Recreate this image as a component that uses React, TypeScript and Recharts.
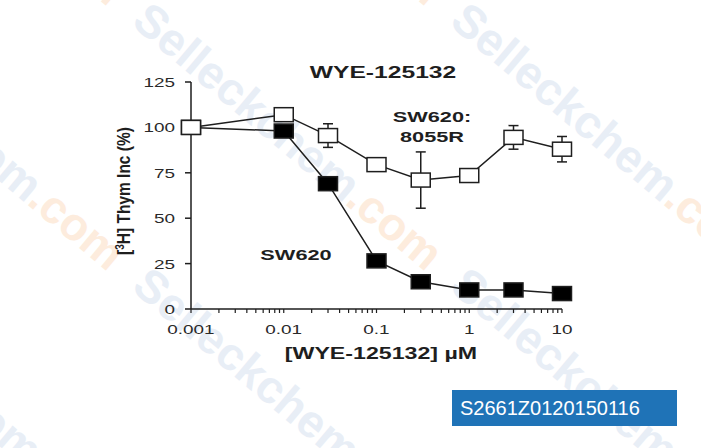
import React from 'react';
import {
  ComposedChart,
  Line,
  XAxis,
  YAxis,
  ErrorBar,
} from 'recharts';

const concentrations = [0.001, 0.01, 0.03, 0.1, 0.3, 1, 3, 10];
const sw620 = [100, 98, 69, 26.5, 15, 10.5, 10.5, 8.5];
const sw620_8055R = [100, 107, 95.5, 79.5, 71, 73.5, 94.5, 88];
const sw620_8055R_err = [0, 2, 6.5, 0, 15.5, 0, 6.5, 7];

const xMajorTicks = [0.001, 0.01, 0.1, 1, 10];
const yTicks = [0, 25, 50, 75, 100, 125];

// minor log ticks between decades
const xTicks = xMajorTicks.slice(0, -1)
  .flatMap((d) => [1, 2, 3, 4, 5, 6, 7, 8, 9].map((m) => +(m * d).toPrecision(3)))
  .concat([10]);

const data = concentrations.map((c, i) => ({
  conc: c,
  sw620: sw620[i],
  r8055: sw620_8055R[i],
  err: sw620_8055R_err[i],
}));

const FONT = '"Liberation Sans", Arial, sans-serif';
const INK = '#1e1e1e';

// background watermark grid
const wmX = [-180, 138, 456];
const wmY = [-250, 15, 280];

const XTick = (props: any) => {
  const { x, y, payload } = props;
  if (!xMajorTicks.includes(payload.value)) return null;
  return (
    <text
      transform={`translate(${x},${y + 19}) scale(1.4,1)`}
      textAnchor="middle"
      fontFamily={FONT}
      fontSize={13.5}
      fill="#2a2a2a"
    >
      {String(payload.value)}
    </text>
  );
};

const YTick = (props: any) => {
  const { x, y, payload } = props;
  return (
    <text
      transform={`translate(${x - 8},${y + 5}) scale(1.4,1)`}
      textAnchor="end"
      fontFamily={FONT}
      fontSize={13.5}
      fill="#2a2a2a"
    >
      {payload.value}
    </text>
  );
};

const squareDot = (fill: string) => (props: any) => {
  const { cx, cy, index } = props;
  if (cx == null || cy == null) return <g key={index} />;
  return (
    <rect
      key={index}
      x={cx - 9.5}
      y={cy - 7}
      width={19}
      height={14}
      fill={fill}
      stroke={INK}
      strokeWidth={1.5}
    />
  );
};

const BoldText = ({ x, y, size, children }: any) => (
  <text
    transform={`translate(${x},${y}) scale(1.45,1)`}
    textAnchor="middle"
    fontFamily={FONT}
    fontWeight="bold"
    fontSize={size}
    fill={INK}
  >
    {children}
  </text>
);

export default function App() {
  return (
    <div
      style={{
        position: 'absolute',
        left: 0,
        top: 0,
        width: 701,
        height: 448,
        background: '#fff',
        overflow: 'hidden',
      }}
    >
      <svg
        width={701}
        height={448}
        style={{ position: 'absolute', left: 0, top: 0 }}
      >
        {wmX.flatMap((wx) =>
          wmY.map((wy) => (
            <text
              key={`${wx}-${wy}`}
              transform={`translate(${wx},${wy}) rotate(40)`}
              fontFamily={FONT}
              fontWeight="bold"
              fontSize={46}
              dominantBaseline="middle"
              fill="#e8eef6"
            >
              Selleckchem<tspan fill="#fdecdd">.com</tspan>
            </text>
          ))
        )}
      </svg>
      <div style={{ position: 'absolute', left: 0, top: 0 }}>
        <ComposedChart
          width={701}
          height={448}
          data={data}
          margin={{ top: 82, right: 139, bottom: 109, left: 131 }}
        >
          <XAxis
            dataKey="conc"
            type="number"
            scale="log"
            domain={[0.001, 10]}
            ticks={xTicks}
            interval={0}
            height={30}
            tickSize={4}
            tick={<XTick />}
            axisLine={{ stroke: INK, strokeWidth: 1.5 }}
            tickLine={{ stroke: INK, strokeWidth: 1.2 }}
          />
          <YAxis
            type="number"
            domain={[0, 125]}
            ticks={yTicks}
            interval={0}
            width={60}
            tickSize={6}
            tick={<YTick />}
            axisLine={{ stroke: INK, strokeWidth: 1.5 }}
            tickLine={{ stroke: INK, strokeWidth: 1.5 }}
          />
          <Line
            dataKey="r8055"
            stroke="none"
            dot={false}
            activeDot={false}
            isAnimationActive={false}
          >
            <ErrorBar dataKey="err" width={5} stroke={INK} strokeWidth={1.5} direction="y" />
          </Line>
          <Line
            type="linear"
            dataKey="sw620"
            stroke={INK}
            strokeWidth={1.5}
            dot={squareDot('#000')}
            activeDot={false}
            isAnimationActive={false}
          />
          <Line
            type="linear"
            dataKey="r8055"
            stroke={INK}
            strokeWidth={1.5}
            dot={squareDot('#fff')}
            activeDot={false}
            isAnimationActive={false}
          />
        </ComposedChart>
      </div>
      <svg
        width={701}
        height={448}
        style={{ position: 'absolute', left: 0, top: 0, pointerEvents: 'none' }}
      >
        <BoldText x={383} y={78} size={17}>WYE-125132</BoldText>
        <BoldText x={432} y={122} size={15}>SW620:</BoldText>
        <BoldText x={432} y={142} size={15}>8055R</BoldText>
        <BoldText x={296} y={260} size={15}>SW620</BoldText>
        <BoldText x={381} y={359} size={16}>[WYE-125132] µM</BoldText>
        <text
          transform="translate(130,191) scale(1.2,1) rotate(-90)"
          textAnchor="middle"
          fontFamily={FONT}
          fontWeight="bold"
          fontSize={15.5}
          fill={INK}
        >
          [<tspan fontSize={10} dy={-5}>3</tspan>
          <tspan dy={5}>H] Thym Inc (%)</tspan>
        </text>
      </svg>
      <div
        style={{
          position: 'absolute',
          left: 452,
          top: 390,
          width: 225,
          height: 36,
          background: '#1f73b7',
          color: '#fff',
          fontFamily: FONT,
          fontSize: 20,
          lineHeight: '36px',
          paddingLeft: 8,
          boxSizing: 'border-box',
        }}
      >
        S2661Z0120150116
      </div>
    </div>
  );
}
